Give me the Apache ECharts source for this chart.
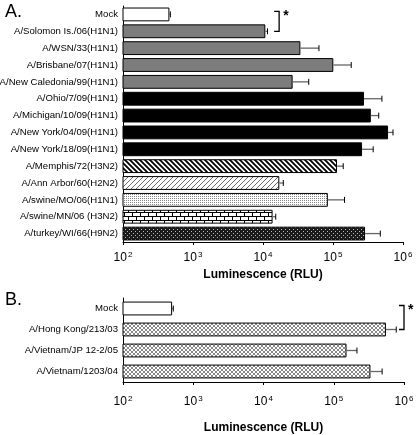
<!DOCTYPE html>
<html><head><meta charset="utf-8">
<script src="https://cdn.jsdelivr.net/npm/echarts@6/dist/echarts.min.js"></script>
<style>html,body{margin:0;padding:0;background:#fff}#c{width:416px;height:435px}</style>
</head><body><div id="c"></div>
<script>
// ---- data ----
const catsA = ['Mock','A/Solomon Is./06(H1N1)','A/WSN/33(H1N1)','A/Brisbane/07(H1N1)','A/New Caledonia/99(H1N1)','A/Ohio/7/09(H1N1)','A/Michigan/10/09(H1N1)','A/New York/04/09(H1N1)','A/New York/18/09(H1N1)','A/Memphis/72(H3N2)','A/Ann Arbor/60(H2N2)','A/swine/MO/06(H1N1)','A/swine/MN/06 (H3N2)','A/turkey/WI/66(H9N2)'];
const valsA = [460,10800,34200,101000,26500,277000,347000,612000,260000,114000,17100,84400,13700,287000];
const errA  = [475,11600,63000,182000,45000,500000,450000,720000,375000,140000,19500,146000,15200,474000];
const styleA = ['white','gray','gray','gray','gray','black','black','black','black','stripe','thin','dots','brick','check'];
const catsB = ['Mock','A/Hong Kong/213/03','A/Vietnam/JP 12-2/05','A/Vietnam/1203/04'];
const valsB = [500,553000,152000,333000];
const errB  = [520,776000,214000,488000];
const styleB = ['white','cross','cross','cross'];
const tickExps = [2,3,4,5,6];
const sigA = [17000,0,1];
const sigB = [1000000,0,1];

// ---- patterns ----
function tile(w,h,draw){const c=document.createElement('canvas');c.width=w;c.height=h;const g=c.getContext('2d');g.fillStyle='#fff';g.fillRect(0,0,w,h);draw(g,w,h);return {image:c,repeat:'repeat'};}
const fills = {
  white:'#ffffff', gray:'#7c7c7c', black:'#000000',
  stripe: tile(5,5,(g,w,h)=>{g.strokeStyle='#000';g.lineWidth=1.8;g.beginPath();g.moveTo(-1,-1);g.lineTo(w+1,h+1);g.moveTo(-1,h-1);g.lineTo(1,h+1);g.moveTo(w-1,-1);g.lineTo(w+1,1);g.stroke();}),
  thin: tile(5,5,(g,w,h)=>{g.strokeStyle='#444';g.lineWidth=0.8;g.beginPath();g.moveTo(-1,h+1);g.lineTo(w+1,-1);g.stroke();}),
  dots: tile(2,2,(g)=>{g.fillStyle='#888';g.fillRect(0,0,1,1);}),
  brick: tile(8,8,(g)=>{g.fillStyle='#000';g.fillRect(0,0,8,1);g.fillRect(0,4,8,1);g.fillRect(0,0,1,4);g.fillRect(4,4,1,4);}),
  check: tile(4,4,(g)=>{g.fillStyle='#1a1a1a';g.fillRect(0,0,4,4);g.fillStyle='#bbb';g.fillRect(1,1,1,1);g.fillRect(3,3,1,1);}),
  cross: tile(4,4,(g,w,h)=>{g.strokeStyle='#555';g.lineWidth=0.7;g.beginPath();g.moveTo(0,0);g.lineTo(w,h);g.moveTo(0,h);g.lineTo(w,0);g.stroke();})
};
function barData(vals,styles){return vals.map((v,i)=>({value:v,itemStyle:{color:fills[styles[i]],borderColor:'#000',borderWidth:1}}));}
function errData(vals,errs){return vals.map((v,i)=>[v,errs[i],i]);}

const errRender = function(params,api){
  const y=api.value(2); const p0=api.coord([api.value(0),y]); const p1=api.coord([api.value(1),y]);
  return {type:'group',children:[
    {type:'line',shape:{x1:p0[0],y1:p0[1],x2:p1[0],y2:p1[1]},style:{stroke:'#666',lineWidth:1.3}},
    {type:'line',shape:{x1:p1[0],y1:p1[1]-3,x2:p1[0],y2:p1[1]+3},style:{stroke:'#000',lineWidth:1}}
  ]};
};
const sigRender = function(params,api){
  const a=api.coord([api.value(0),api.value(1)]); const b=api.coord([api.value(0),api.value(2)]);
  const t=a[1]-3, u=b[1]; const x=a[0];
  return {type:'group',children:[
    {type:'polyline',shape:{points:[[x-5,t],[x,t],[x,u],[x-5,u]]},style:{stroke:'#000',lineWidth:1.3,fill:null}},
    {type:'text',style:{text:'*',x:x+4,y:t-2,fill:'#000',font:'bold 14px Liberation Sans'}}
  ]};
};

const xAxisBase = (gi,margin,gap)=>({
  type:'log',logBase:10,min:100,max:1000000,gridIndex:gi,
  axisLine:{show:true,lineStyle:{color:'#000',width:1}},
  axisTick:{show:true,length:3,lineStyle:{color:'#000'}},
  minorTick:{show:false},splitLine:{show:false},
  axisLabel:{margin:margin,color:'#000',fontFamily:'Liberation Sans',fontSize:12,
    formatter:(v)=>{const e=Math.round(Math.log10(v));return tickExps.includes(e)?'10{sup|'+e+'}':'';},
    rich:{sup:{fontSize:8,fontFamily:'Liberation Sans',color:'#000',verticalAlign:'top',padding:[0,0,6,1]}}},
  name:'Luminescence (RLU)',nameLocation:'middle',nameGap:gap,
  nameTextStyle:{fontFamily:'Liberation Sans',fontWeight:'bold',fontSize:12,color:'#000'}
});
const yAxisBase = (gi,cats)=>({
  type:'category',data:cats,inverse:true,gridIndex:gi,
  axisLine:{show:true,lineStyle:{color:'#000',width:1}},axisTick:{show:false},
  axisLabel:{color:'#000',fontFamily:'Liberation Sans',fontSize:9.6,margin:5}
});

const chart = echarts.init(document.getElementById('c'),null,{renderer:'canvas'});
chart.setOption({
  animation:false,
  title:[
    {text:'A.',left:0,top:-2,textStyle:{fontFamily:'Liberation Sans',fontWeight:'normal',fontSize:18,color:'#000'}},
    {text:'B.',left:0,top:286,textStyle:{fontFamily:'Liberation Sans',fontWeight:'normal',fontSize:18,color:'#000'}}
  ],
  grid:[
    {left:123,width:280,top:6,height:236,outerBoundsMode:'none',containLabel:false},
    {left:123,width:281,top:298,height:84,outerBoundsMode:'none',containLabel:false}
  ],
  xAxis:[xAxisBase(0,9,26),xAxisBase(1,13,40)],
  yAxis:[yAxisBase(0,catsA),yAxisBase(1,catsB)],
  series:[
    {type:'bar',xAxisIndex:0,yAxisIndex:0,data:barData(valsA,styleA),barCategoryGap:'18%',clip:true},
    {type:'custom',xAxisIndex:0,yAxisIndex:0,data:errData(valsA,errA),renderItem:errRender,clip:false,z:3},
    {type:'custom',xAxisIndex:0,yAxisIndex:0,data:[sigA],renderItem:sigRender,clip:false,z:3},
    {type:'bar',xAxisIndex:1,yAxisIndex:1,data:barData(valsB,styleB),barCategoryGap:'34%',clip:true},
    {type:'custom',xAxisIndex:1,yAxisIndex:1,data:errData(valsB,errB),renderItem:errRender,clip:false,z:3},
    {type:'custom',xAxisIndex:1,yAxisIndex:1,data:[sigB],renderItem:sigRender,clip:false,z:3}
  ]
});
</script></body></html>
